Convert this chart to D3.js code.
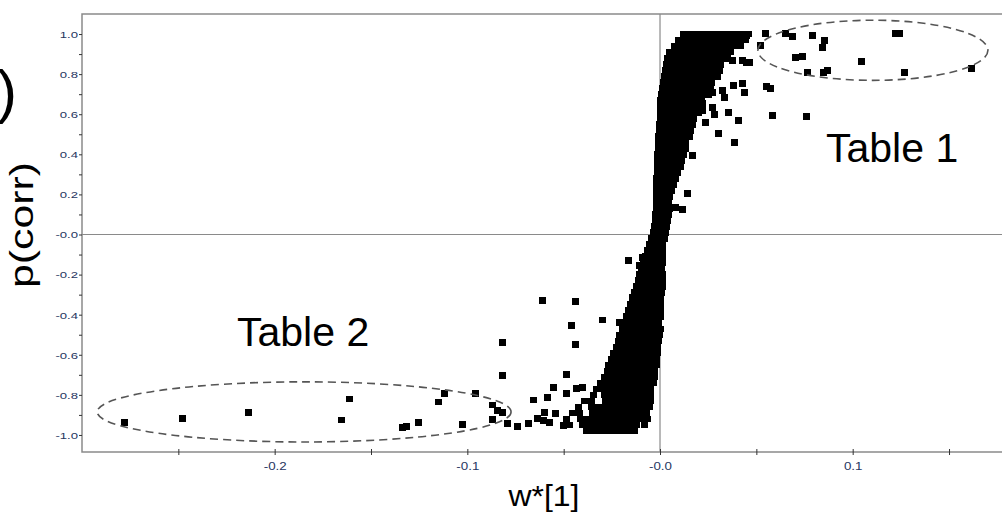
<!DOCTYPE html>
<html>
<head>
<meta charset="utf-8">
<script src="https://cdn.jsdelivr.net/npm/d3@7"></script>
<style>
  body { margin: 0; background: #fff; }
  svg { display: block; font-family: Arial, "Liberation Sans", sans-serif; }
</style>
</head>
<body>
<svg id="chart"></svg>
<script>
'use strict';

var width = 1002;
var height = 521;

var xTicks = [-0.25, -0.2, -0.15, -0.1, -0.05, 0, 0.05, 0.1, 0.15];
var xTickLabels = ['', '-0.2', '', '-0.1', '', '-0.0', '', '0.1', ''];
var yTicks = [-1.0, -0.9, -0.8, -0.7, -0.6, -0.5, -0.4, -0.3, -0.2, -0.1, 0,
              0.1, 0.2, 0.3, 0.4, 0.5, 0.6, 0.7, 0.8, 0.9, 1.0];
var yTickLabels = ['-1.0', '', '-0.8', '', '-0.6', '', '-0.4', '', '-0.2', '', '-0.0',
                   '', '0.2', '', '0.4', '', '0.6', '', '0.8', '', '1.0'];

// dense S-shaped cloud, read row by row: [p(corr), [w*[1] values]]
var bandRows = [
  [1.00, [0.012, 0.0155, 0.019, 0.0225, 0.026, 0.0295, 0.033, 0.0365, 0.04, 0.0435, 0.046]],
  [0.97, [0.0095, 0.013, 0.0165, 0.02, 0.0235, 0.027, 0.0305, 0.034, 0.0375, 0.041, 0.0445]],
  [0.94, [0.0075, 0.011, 0.0145, 0.018, 0.0215, 0.025, 0.0285, 0.032, 0.0355, 0.039, 0.042]],
  [0.91, [0.005, 0.0085, 0.012, 0.0155, 0.019, 0.0225, 0.026, 0.0295, 0.033, 0.0365]],
  [0.88, [0.004, 0.0075, 0.011, 0.0145, 0.018, 0.0215, 0.025, 0.0285, 0.032, 0.035]],
  [0.85, [0.0035, 0.007, 0.0105, 0.014, 0.0175, 0.021, 0.0245, 0.028, 0.0315]],
  [0.82, [0.003, 0.0065, 0.01, 0.0135, 0.017, 0.0205, 0.024, 0.0275, 0.031]],
  [0.79, [0.0025, 0.006, 0.0095, 0.013, 0.0165, 0.02, 0.0235, 0.027, 0.03]],
  [0.76, [0.002, 0.0055, 0.009, 0.0125, 0.016, 0.0195, 0.023, 0.0265]],
  [0.73, [0.0015, 0.005, 0.0085, 0.012, 0.0155, 0.019, 0.0225, 0.026]],
  [0.70, [0.001, 0.0045, 0.008, 0.0115, 0.015, 0.0185, 0.022, 0.025]],
  [0.67, [0.0005, 0.004, 0.0075, 0.011, 0.0145, 0.018, 0.0215]],
  [0.64, [0.0005, 0.004, 0.0075, 0.011, 0.0145, 0.018, 0.021]],
  [0.61, [0, 0.0035, 0.007, 0.0105, 0.014, 0.0175, 0.02]],
  [0.58, [0, 0.0035, 0.007, 0.0105, 0.014, 0.0175]],
  [0.55, [-0.0005, 0.003, 0.0065, 0.01, 0.0135, 0.017]],
  [0.52, [-0.0005, 0.003, 0.0065, 0.01, 0.0135, 0.016]],
  [0.49, [-0.001, 0.0025, 0.006, 0.0095, 0.013, 0.0155]],
  [0.46, [-0.001, 0.0025, 0.006, 0.0095, 0.013]],
  [0.43, [-0.001, 0.0025, 0.006, 0.0095, 0.013]],
  [0.40, [-0.0015, 0.002, 0.0055, 0.009, 0.012]],
  [0.37, [-0.0015, 0.002, 0.0055, 0.009, 0.011]],
  [0.34, [-0.0015, 0.002, 0.0055, 0.009, 0.0105]],
  [0.31, [-0.0015, 0.002, 0.0055, 0.009]],
  [0.28, [-0.002, 0.0015, 0.005, 0.008]],
  [0.25, [-0.002, 0.0015, 0.005, 0.007]],
  [0.22, [-0.002, 0.0015, 0.005, 0.006]],
  [0.19, [-0.002, 0.0015, 0.005]],
  [0.16, [-0.002, 0.0015, 0.0045]],
  [0.13, [-0.002, 0.0015, 0.005]],
  [0.10, [-0.0025, 0.001, 0.0045]],
  [0.07, [-0.0025, 0.001, 0.004]],
  [0.04, [-0.003, 0.0005, 0.0035]],
  [0.01, [-0.0035, 0, 0.003]],
  [-0.02, [-0.0045, -0.001, 0.0025]],
  [-0.05, [-0.0055, -0.002, 0.0015]],
  [-0.08, [-0.0065, -0.003, 0.0005, 0.0015]],
  [-0.11, [-0.0075, -0.004, -0.0005, 0.0015]],
  [-0.14, [-0.0085, -0.005, -0.0015, 0.0015]],
  [-0.17, [-0.0095, -0.006, -0.0025, 0.001]],
  [-0.20, [-0.0105, -0.007, -0.0035, 0, 0.0015]],
  [-0.23, [-0.011, -0.0075, -0.004, -0.0005, 0.0015]],
  [-0.26, [-0.012, -0.0085, -0.005, -0.0015, 0.0015]],
  [-0.29, [-0.013, -0.0095, -0.006, -0.0025, 0.001]],
  [-0.32, [-0.014, -0.0105, -0.007, -0.0035, 0]],
  [-0.35, [-0.0155, -0.012, -0.0085, -0.005, -0.0015, 0.0005]],
  [-0.38, [-0.0165, -0.013, -0.0095, -0.006, -0.0025, 0.0005]],
  [-0.41, [-0.0175, -0.014, -0.0105, -0.007, -0.0035, 0]],
  [-0.44, [-0.0185, -0.015, -0.0115, -0.008, -0.0045, -0.001]],
  [-0.47, [-0.0195, -0.016, -0.0125, -0.009, -0.0055, -0.002, 0]],
  [-0.50, [-0.0205, -0.017, -0.0135, -0.01, -0.0065, -0.003, -0.0005]],
  [-0.53, [-0.0215, -0.018, -0.0145, -0.011, -0.0075, -0.004, -0.001]],
  [-0.56, [-0.0225, -0.019, -0.0155, -0.012, -0.0085, -0.005, -0.0015]],
  [-0.59, [-0.024, -0.0205, -0.017, -0.0135, -0.01, -0.0065, -0.003, -0.0015]],
  [-0.62, [-0.025, -0.0215, -0.018, -0.0145, -0.011, -0.0075, -0.004, -0.002]],
  [-0.65, [-0.0265, -0.023, -0.0195, -0.016, -0.0125, -0.009, -0.0055, -0.002]],
  [-0.68, [-0.0275, -0.024, -0.0205, -0.017, -0.0135, -0.01, -0.0065, -0.003]],
  [-0.71, [-0.029, -0.0255, -0.022, -0.0185, -0.015, -0.0115, -0.008, -0.0045, -0.003]],
  [-0.74, [-0.031, -0.0275, -0.024, -0.0205, -0.017, -0.0135, -0.01, -0.0065, -0.0035]],
  [-0.77, [-0.033, -0.0295, -0.026, -0.0225, -0.019, -0.0155, -0.012, -0.0085, -0.005]],
  [-0.80, [-0.0345, -0.029, -0.0255, -0.022, -0.0185, -0.015, -0.0115, -0.008, -0.005]],
  [-0.83, [-0.039, -0.0355, -0.0285, -0.025, -0.0215, -0.018, -0.0145, -0.011, -0.0075, -0.005]],
  [-0.86, [-0.0425, -0.0355, -0.032, -0.0285, -0.025, -0.0215, -0.018, -0.0145, -0.011, -0.0075, -0.0055]],
  [-0.89, [-0.0455, -0.042, -0.035, -0.0315, -0.028, -0.0245, -0.021, -0.0175, -0.014, -0.0105, -0.007]],
  [-0.92, [-0.0485, -0.0415, -0.038, -0.0345, -0.031, -0.0275, -0.024, -0.0205, -0.017, -0.0135, -0.01, -0.0065]],
  [-0.95, [-0.047, -0.04, -0.0365, -0.033, -0.0295, -0.026, -0.0225, -0.019, -0.0155, -0.012, -0.008]],
  [-0.98, [-0.038, -0.0345, -0.031, -0.0275, -0.024, -0.0205, -0.017, -0.0135]]
];

// loose points around the cloud: [w*[1], p(corr)]
var spreadPoints = [
  [0.0348, 0.918], [0.0426, 0.868], [0.0451, 0.858], [0.0374, 0.868], [0.0467, 0.858],
  [0.0415, 0.994], [0.0451, 0.994], [0.0545, 1.004],
  [0.0322, 0.719], [0.0379, 0.744], [0.0426, 0.754], [0.0441, 0.709], [0.0337, 0.684],
  [0.0275, 0.709], [0.0223, 0.654], [0.027, 0.634], [0.0353, 0.609], [0.0223, 0.619],
  [0.0555, 0.739], [0.0571, 0.729], [0.0586, 0.594], [0.0758, 0.589], [0.0405, 0.569],
  [0.0301, 0.504], [0.0389, 0.459], [0.0171, 0.394], [0.0145, 0.206], [0.0078, 0.136],
  [0.0119, 0.126], [0.0156, 0.53], [0.0234, 0.56], [0.0285, 0.6],
  [-0.0166, -0.128], [-0.0093, -0.113], [-0.0104, -0.153], [-0.013, -0.288], [-0.0145, -0.313],
  [-0.0296, -0.427], [-0.0208, -0.437], [-0.0208, -0.502], [-0.0457, -0.453], [-0.0441, -0.333],
  [-0.0612, -0.328], [-0.0441, -0.547], [-0.0483, -0.697], [-0.0555, -0.762], [-0.0483, -0.792],
  [-0.0431, -0.767], [-0.04, -0.762], [-0.0586, -0.812], [-0.0597, -0.886], [-0.0545, -0.891],
  [-0.0571, -0.936], [-0.0503, -0.951], [-0.0607, -0.926], [-0.0659, -0.826], [-0.0815, -0.537],
  [-0.082, -0.702], [-0.0867, -0.851], [-0.0846, -0.876], [-0.082, -0.886], [-0.0867, -0.921],
  [-0.0789, -0.941], [-0.0742, -0.956], [-0.0685, -0.941], [-0.0638, -0.916]
];

var table1Points = [
  [0.0519, 0.943], [0.0649, 1.004], [0.069, 0.989], [0.0789, 0.994], [0.0856, 0.969],
  [0.0841, 0.934], [0.122, 1.004], [0.1245, 1.004], [0.0701, 0.883], [0.0742, 0.888],
  [0.1048, 0.863], [0.0763, 0.808], [0.0846, 0.808], [0.0867, 0.818], [0.1271, 0.808],
  [0.1619, 0.828]
];

var table2Points = [
  [-0.2782, -0.936], [-0.248, -0.916], [-0.2138, -0.886], [-0.1614, -0.82], [-0.1655, -0.925],
  [-0.1334, -0.961], [-0.1318, -0.956], [-0.1256, -0.936], [-0.1152, -0.836], [-0.1121, -0.792],
  [-0.1027, -0.946], [-0.096, -0.792]
];

// dashed rings around the two groups, in data units
var groupRings = [
  { name: 'Table 1', cx: 0.1105, cy: 0.919, rx: 0.0597, ry: 0.15 },
  { name: 'Table 2', cx: -0.1847, cy: -0.885, rx: 0.1074, ry: 0.15 }
];

var margin = { top: 14, right: 0, bottom: 69, left: 82 };

var svg = d3.select('#chart')
  .attr('width', width)
  .attr('height', height);

var x = d3.scaleLinear()
  .domain([-0.3, 0.1775])
  .range([margin.left, width - margin.right]);

var y = d3.scaleLinear()
  .domain([-1.085, 1.1])
  .range([height - margin.bottom, margin.top]);

var frameColor = '#8a8a8a';
var labelColor = '#27365f';

// zero lines
svg.append('line')
  .attr('x1', x.range()[0]).attr('x2', x.range()[1])
  .attr('y1', y(0)).attr('y2', y(0))
  .attr('stroke', frameColor).attr('stroke-width', 1.2);
svg.append('line')
  .attr('x1', x(0)).attr('x2', x(0))
  .attr('y1', y.range()[1]).attr('y2', y.range()[0])
  .attr('stroke', frameColor).attr('stroke-width', 1.2);

// frame
svg.append('path')
  .attr('d', 'M' + x.range()[1] + ',' + y.range()[1] + 'H' + x.range()[0] +
             'V' + y.range()[0] + 'H' + x.range()[1])
  .attr('fill', 'none')
  .attr('stroke', frameColor)
  .attr('stroke-width', 1.5);

var yAxis = svg.append('g')
  .attr('transform', 'translate(' + x.range()[0] + ',0)')
  .call(d3.axisLeft(y)
    .tickValues(yTicks)
    .tickSizeInner(3)
    .tickSizeOuter(0)
    .tickFormat(function(d, i) { return yTickLabels[i]; }));
yAxis.select('.domain').remove();
yAxis.selectAll('.tick line').attr('stroke', '#333');
yAxis.selectAll('.tick text')
  .attr('x', 0)
  .attr('dy', '0.35em')
  .attr('transform', 'translate(-4,0) scale(1.38,1)')
  .attr('fill', labelColor)
  .style('font-size', '9.5px');

var xAxis = svg.append('g')
  .attr('transform', 'translate(0,' + y.range()[0] + ')')
  .call(d3.axisBottom(x)
    .tickValues(xTicks)
    .tickSizeInner(3)
    .tickSizeOuter(0)
    .tickFormat(function(d, i) { return xTickLabels[i]; }));
xAxis.select('.domain').remove();
xAxis.selectAll('.tick line').attr('y1', -3).attr('y2', 3).attr('stroke', '#333');
xAxis.selectAll('.tick text')
  .attr('y', 0)
  .attr('dy', 0)
  .attr('transform', 'translate(0,18) scale(1.16,1)')
  .attr('fill', labelColor)
  .style('font-size', '11.5px');

var points = [];
bandRows.forEach(function(row) {
  row[1].forEach(function(w) {
    points.push([w, row[0]]);
  });
});
points = points.concat(spreadPoints, table1Points, table2Points);

svg.append('g')
  .attr('shape-rendering', 'crispEdges')
  .selectAll('rect')
  .data(points)
  .enter().append('rect')
  .attr('x', function(d) { return x(d[0]) - 3.5; })
  .attr('y', function(d) { return y(d[1]) - 3.2; })
  .attr('width', 7)
  .attr('height', 6.6)
  .attr('fill', '#000');

svg.append('g')
  .selectAll('ellipse')
  .data(groupRings)
  .enter().append('ellipse')
  .attr('cx', function(d) { return x(d.cx); })
  .attr('cy', function(d) { return y(d.cy); })
  .attr('rx', function(d) { return x(d.cx + d.rx) - x(d.cx); })
  .attr('ry', function(d) { return y(d.cy - d.ry) - y(d.cy); })
  .attr('fill', 'none')
  .attr('stroke', '#555')
  .attr('stroke-width', 1.6)
  .attr('stroke-dasharray', '8,5');

// labels
svg.append('text')
  .attr('x', 826)
  .attr('y', 162)
  .style('font-size', '41px')
  .text('Table 1');

svg.append('text')
  .attr('x', 237)
  .attr('y', 346)
  .style('font-size', '41px')
  .text('Table 2');

svg.append('text')
  .attr('transform', 'translate(33,225) rotate(-90)')
  .attr('text-anchor', 'middle')
  .attr('textLength', 126)
  .attr('lengthAdjust', 'spacingAndGlyphs')
  .style('font-size', '33px')
  .text('p(corr)');

svg.append('text')
  .attr('x', 544)
  .attr('y', 506)
  .attr('text-anchor', 'middle')
  .attr('textLength', 71)
  .attr('lengthAdjust', 'spacingAndGlyphs')
  .style('font-size', '30px')
  .text('w*[1]');

svg.append('text')
  .attr('x', 17)
  .attr('y', 112)
  .attr('text-anchor', 'end')
  .style('font-size', '60px')
  .text(')');
</script>
</body>
</html>
